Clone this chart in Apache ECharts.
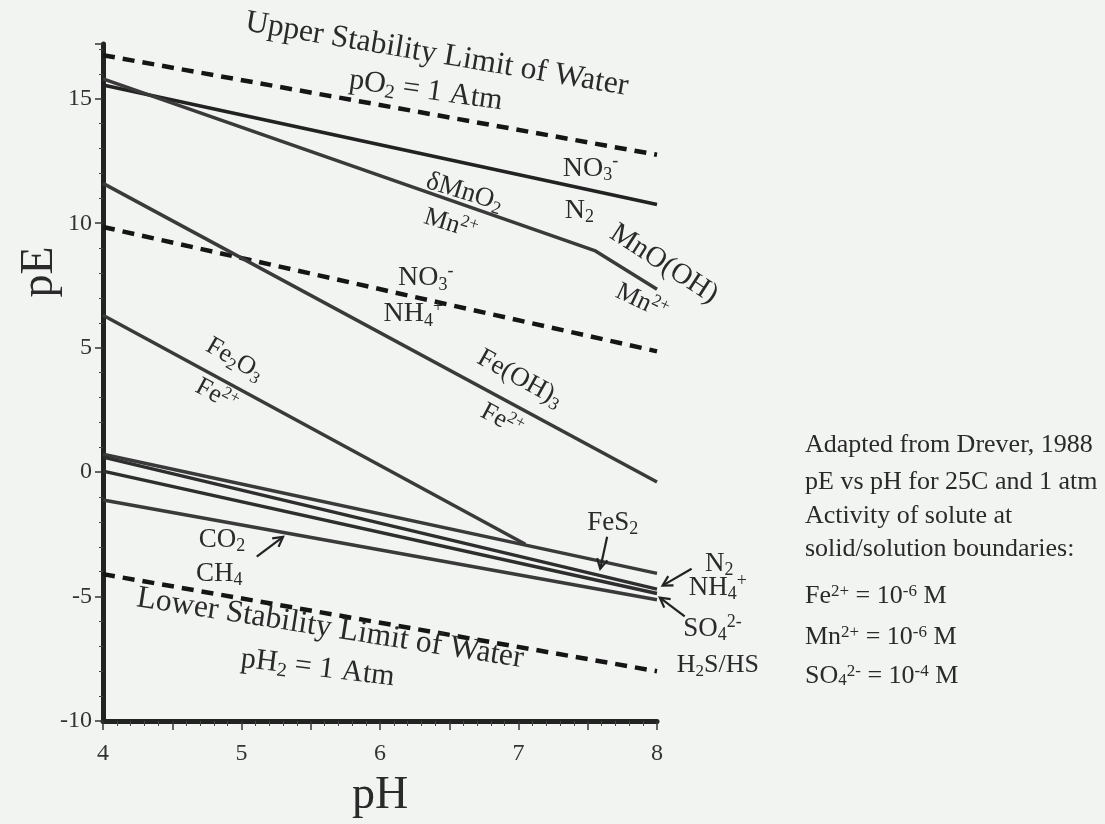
<!DOCTYPE html>
<html><head><meta charset="utf-8">
<script src="https://cdn.jsdelivr.net/npm/echarts@6/dist/echarts.min.js"></script>
<style>html,body{margin:0;padding:0;background:#f2f4f2}#c{width:1105px;height:824px}</style>
</head><body><div id="c"></div>
<script>
const FAM = '"Liberation Serif","Times New Roman",serif';

// axes
const xRange = [4, 8];
const yRange = [-10, 17.2];

// boundaries as [pH, pE]
const upperWater = [[4, 16.75], [8, 12.75]];
const lowerWater = [[4, -4.1], [8, -8.0]];
const no3nh4 = [[4, 9.85], [8, 4.85]];
const no3n2 = [[4, 15.55], [8, 10.75]];
const mnLine = [[4, 15.8], [7.55, 8.9], [8, 7.35]];
const feoh3 = [[4, 11.6], [8, -0.4]];
const fe2o3 = [[4, 6.3], [7.05, -2.9]];
const fes2 = [[4, 0.72], [8, -4.07]];
const n2nh4 = [[4, 0.6], [8, -4.7]];
const so4h2s = [[4, 0.04], [8, -4.88]];
const co2ch4 = [[4, -1.12], [8, -5.13]];

// in-plot labels: text, pH, pE, rotation (deg), size
const labels = [
  ['{m|Upper Stability Limit of Water}', 6.41, 16.78, 9.6, 31.5],
  ['{m|pO}{sub|2}{m| = 1 Atm}', 6.33, 15.32, 8, 30],
  ['{m|NO}{sub|3}{sup|-}', 7.52, 12.2, 0, 28],
  ['{m|N}{sub|2}', 7.44, 10.52, 0, 28],
  ['{m|δMnO}{sub|2}', 6.61, 11.24, 17, 27],
  ['{m|Mn}{sup|2+}', 6.51, 9.96, 17, 26],
  ['{m|MnO(OH)}', 8.05, 8.36, 33, 29],
  ['{m|Mn}{sup|2+}', 7.89, 6.84, 25, 26],
  ['{m|NO}{sub|3}{sup|-}', 6.33, 7.8, 0, 28],
  ['{m|NH}{sub|4}{sup|+}', 6.24, 6.36, 0, 28],
  ['{m|Fe(OH)}{sub|3}', 7.01, 3.76, 29, 27],
  ['{m|Fe}{sup|2+}', 6.88, 2.08, 28, 26],
  ['{m|Fe}{sub|2}{m|O}{sub|3}', 4.95, 4.52, 30, 26],
  ['{m|Fe}{sup|2+}', 4.82, 3.08, 28, 26],
  ['{m|FeS}{sub|2}', 7.68, -2.04, 0, 27],
  ['{m|N}{sub|2}', 8.45, -3.68, 0, 27],
  ['{m|NH}{sub|4}{sup|+}', 8.44, -4.64, 0, 27],
  ['{m|SO}{sub|4}{sup|2-}', 8.40, -6.28, 0, 27],
  ['{m|H}{sub|2}{m|S/HS}', 8.44, -7.76, 0, 26],
  ['{m|CO}{sub|2}', 4.86, -2.72, 0, 27],
  ['{m|CH}{sub|4}', 4.84, -4.08, 0, 27],
  ['{m|Lower Stability Limit of Water}', 5.64, -6.28, 9, 31.5],
  ['{m|pH}{sub|2}{m| = 1 Atm}', 5.55, -7.88, 7, 30]
];

// arrows: [fromPH, fromPE, toPH, toPE]
const arrows = [
  [7.64, -2.6, 7.59, -3.88],
  [8.25, -3.88, 8.04, -4.56],
  [8.20, -5.8, 8.02, -5.04],
  [5.11, -3.4, 5.30, -2.6]
];

const noteLines = [
  'Adapted from Drever, 1988',
  'pE vs pH for 25C and 1 atm',
  'Activity of solute at',
  'solid/solution boundaries:',
  'Fe{sup|2+} = 10{sup|-6} M',
  'Mn{sup|2+} = 10{sup|-6} M',
  'SO{sub|4}{sup|2-} = 10{sup|-4} M'
];
const noteY = [445, 482, 516, 549, 596, 637, 676];

function rich(S) {
  const s2 = Math.round(S * 0.65);
  return {
    m: {fontSize: S, fontFamily: FAM, lineHeight: S + 4, fill: '#2a2a2a', color: '#2a2a2a'},
    sub: {fontSize: s2, fontFamily: FAM, lineHeight: Math.round(S * 0.42), verticalAlign: 'bottom', fill: '#2a2a2a', color: '#2a2a2a'},
    sup: {fontSize: s2, fontFamily: FAM, lineHeight: Math.round(S * 0.42), verticalAlign: 'top', fill: '#2a2a2a', color: '#2a2a2a'}
  };
}

const solid = (data, color) => ({
  type: 'line', data, showSymbol: false, symbol: 'none', silent: true,
  lineStyle: {color: color || '#3a3a3a', width: 3.5}
});
const dashed = (data) => ({
  type: 'line', data, showSymbol: false, symbol: 'none', silent: true,
  lineStyle: {color: '#151515', width: 4.5, type: [12, 8]}
});

const chart = echarts.init(document.getElementById('c'), null, {renderer: 'canvas'});
chart.setOption({
  backgroundColor: '#f2f4f2',
  animation: false,
  grid: {left: 103, right: 448, top: 44, bottom: 101},
  xAxis: {
    type: 'value', min: xRange[0], max: xRange[1], interval: 0.5,
    name: 'pH', nameLocation: 'middle', nameGap: 52,
    nameTextStyle: {fontSize: 46, fontFamily: FAM, color: '#2a2a2a'},
    axisLine: {onZero: false, lineStyle: {color: '#222', width: 5}},
    axisTick: {length: 9, lineStyle: {color: '#333', width: 1.5}},
    minorTick: {show: true, splitNumber: 5, length: 5, lineStyle: {color: '#444', width: 1}},
    splitLine: {show: false},
    axisLabel: {fontSize: 24, fontFamily: FAM, color: '#333', margin: 21,
      formatter: v => Number.isInteger(v) ? String(v) : ''}
  },
  yAxis: {
    type: 'value', min: yRange[0], max: yRange[1], interval: 5,
    axisLine: {show: true, onZero: false, lineStyle: {color: '#222', width: 5}},
    axisTick: {show: true, length: 8, lineStyle: {color: '#333', width: 1.5}},
    minorTick: {show: true, splitNumber: 5, length: 4, lineStyle: {color: '#444', width: 1}},
    splitLine: {show: false},
    axisLabel: {fontSize: 24, fontFamily: FAM, color: '#333', margin: 11, padding: [0, 0, 12, 0],
      formatter: v => (v % 5 === 0 ? String(v) : '')}
  },
  graphic: [
    {type: 'text', x: 40, y: 272, rotation: Math.PI / 2,
      style: {text: 'pE', fontSize: 46, fontFamily: FAM, fill: '#2a2a2a', align: 'center', verticalAlign: 'middle'}},
    ...noteLines.map((t, i) => ({
      type: 'text', x: 805, y: noteY[i],
      style: {text: t, rich: rich(26), fontSize: 26, fontFamily: FAM, fill: '#2a2a2a', align: 'left', verticalAlign: 'middle'}
    }))
  ],
  series: [
    dashed(upperWater),
    dashed(lowerWater),
    dashed(no3nh4),
    solid(no3n2, '#222'),
    solid(mnLine),
    solid(feoh3),
    solid(fe2o3),
    solid(fes2),
    solid(n2nh4, '#2e2e2e'),
    solid(so4h2s, '#2e2e2e'),
    solid(co2ch4),
    {
      type: 'custom', coordinateSystem: 'cartesian2d', silent: true, clip: false, z: 10,
      data: labels.map(l => [l[1], l[2]]),
      renderItem: (params, api) => {
        const l = labels[params.dataIndex];
        const p = api.coord([api.value(0), api.value(1)]);
        return {
          type: 'text', x: p[0], y: p[1], rotation: -l[3] * Math.PI / 180,
          style: {text: l[0], rich: rich(l[4]), fontSize: l[4], fontFamily: FAM, fill: '#2a2a2a',
            align: 'center', verticalAlign: 'middle'}
        };
      }
    },
    {
      type: 'custom', coordinateSystem: 'cartesian2d', silent: true, clip: false, z: 10,
      data: arrows,
      renderItem: (params, api) => {
        const a = api.coord([api.value(0), api.value(1)]);
        const b = api.coord([api.value(2), api.value(3)]);
        const ang = Math.atan2(b[1] - a[1], b[0] - a[0]);
        const h = 11, w = 0.5;
        const p1 = [b[0] - h * Math.cos(ang - w), b[1] - h * Math.sin(ang - w)];
        const p2 = [b[0] - h * Math.cos(ang + w), b[1] - h * Math.sin(ang + w)];
        const st = {stroke: '#222', lineWidth: 2.2, fill: null};
        return {type: 'group', children: [
          {type: 'line', shape: {x1: a[0], y1: a[1], x2: b[0], y2: b[1]}, style: st},
          {type: 'polyline', shape: {points: [p1, b, p2]}, style: st}
        ]};
      }
    }
  ]
});
</script></body></html>
